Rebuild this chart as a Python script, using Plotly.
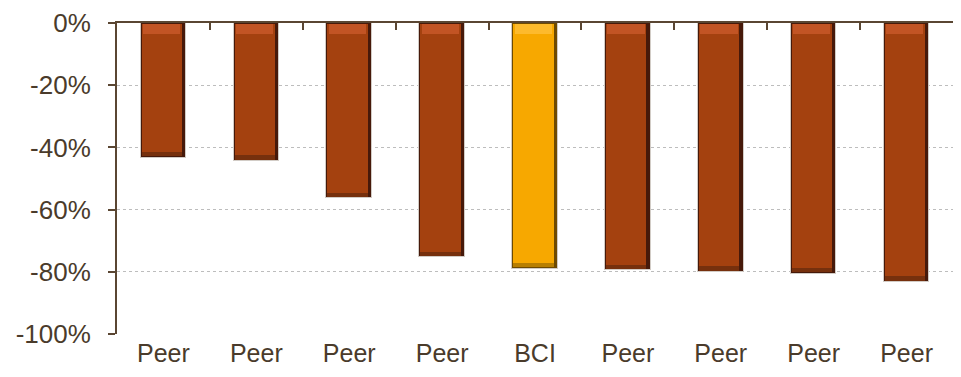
import plotly.graph_objects as go

# Change in value by company (percent)
categories = ["Peer", "Peer", "Peer", "Peer", "BCI", "Peer", "Peer", "Peer", "Peer"]
changes = [-43.3, -44.4, -56.3, -75.4, -79.0, -79.5, -80.0, -80.6, -83.3]
y_ticks = [0, -20, -40, -60, -80, -100]
y_tick_text = ["0%", "-20%", "-40%", "-60%", "-80%", "-100%"]

highlight = "BCI"
TEXT = "#4A3B2B"
AXIS = "#5A4632"
FONT = "Liberation Sans, Arial, sans-serif"

x = list(range(len(categories)))
is_hl = [c == highlight for c in categories]

edge_col = ["#6E4A00" if h else "#46190A" for h in is_hl]
main_col = ["#F7A800" if h else "#A4410F" for h in is_hl]
top_col = ["#FDBA2C" if h else "#C25424" for h in is_hl]
bot_col = ["#B77E00" if h else "#76300D" for h in is_hl]

fig = go.Figure()

# outer body (dark rim + light outline)
fig.add_trace(go.Bar(
    x=x, y=changes, width=0.49, offset=-0.245,
    marker=dict(color=edge_col, line=dict(color="#D2CCC6", width=1)),
    hoverinfo="skip", showlegend=False,
))
# main face
fig.add_trace(go.Bar(
    x=x, y=[v + 1.6 for v in changes], base=[-0.3] * len(x),
    width=0.435, offset=-0.235,
    marker=dict(color=main_col, line=dict(width=0)),
    hovertemplate="%{y:.0f}%<extra></extra>", showlegend=False,
))
# lit top bevel
fig.add_trace(go.Bar(
    x=x, y=[-3.2] * len(x), base=[-0.3] * len(x),
    width=0.40, offset=-0.22,
    marker=dict(color=top_col, line=dict(width=0)),
    hoverinfo="skip", showlegend=False,
))
# shaded bottom bevel
fig.add_trace(go.Bar(
    x=x, y=[-1.4] * len(x), base=[v + 1.8 for v in changes],
    width=0.435, offset=-0.235,
    marker=dict(color=bot_col, line=dict(width=0)),
    hoverinfo="skip", showlegend=False,
))

# top axis carrying the category separator ticks
fig.add_trace(go.Scatter(x=[-0.5, 8.5], y=[0, 0], xaxis="x2", mode="lines",
                         line=dict(width=0), hoverinfo="skip", showlegend=False))

fig.update_layout(
    width=961, height=377,
    margin=dict(l=117, r=8, t=21, b=43),
    paper_bgcolor="white", plot_bgcolor="white",
    barmode="overlay", bargap=0,
    font=dict(family=FONT, size=25, color=TEXT),
    xaxis=dict(
        tickmode="array", tickvals=x, ticktext=categories,
        range=[-0.5, len(x) - 0.5],
        showgrid=False, zeroline=False, showline=False, ticks="",
        tickfont=dict(size=25, color=TEXT), ticklabelstandoff=2,
    ),
    xaxis2=dict(
        overlaying="x", side="top", range=[-0.5, len(x) - 0.5],
        showline=True, linecolor=AXIS, linewidth=2,
        ticks="inside", ticklen=7, tickwidth=2, tickcolor=AXIS,
        tickvals=[i + 0.5 for i in range(len(x) - 1)],
        showticklabels=False, showgrid=False, zeroline=False,
    ),
    yaxis=dict(
        range=[-100, 0], tickvals=y_ticks, ticktext=y_tick_text,
        showgrid=True, gridcolor="#BDBDBD", griddash="dot", gridwidth=1,
        zeroline=False, showline=True, linecolor=AXIS, linewidth=2,
        ticks="outside", ticklen=7, tickwidth=2, tickcolor=AXIS,
        tickfont=dict(size=26, color=TEXT), ticklabelstandoff=12,
    ),
)

fig.write_html("out.html")
